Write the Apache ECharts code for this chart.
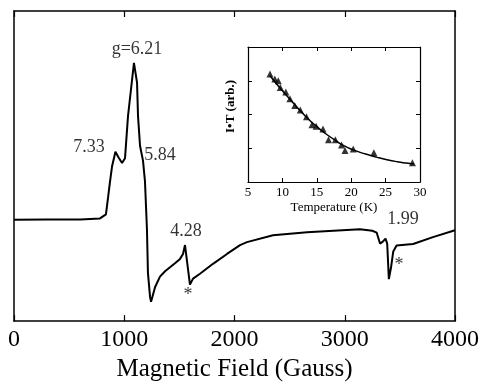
<!DOCTYPE html>
<html>
<head>
<meta charset="utf-8">
<script src="https://cdn.jsdelivr.net/npm/echarts@6/dist/echarts.min.js"></script>
<style>
html,body{margin:0;padding:0;background:#fff;}
#chart{width:483px;height:387px;}
</style>
</head>
<body>
<div id="chart"></div>
<script>
// EPR spectrum: magnetic field (Gauss) vs derivative signal (arb.)
const fieldG = [0, 300, 600, 780, 834, 853, 870, 889, 920, 950, 980, 1007, 1034, 1061, 1088, 1116, 1125, 1143, 1170, 1188, 1206, 1215, 1234, 1243, 1280, 1324, 1370, 1415, 1460, 1506, 1533, 1551, 1596, 1624, 1687, 1805, 1932, 2050, 2113, 2349, 2658, 3138, 3250, 3290, 3320, 3345, 3370, 3385, 3400, 3420, 3440, 3470, 3520, 3620, 3800, 4000];
const signal = [0, 0.5, 0.5, 1.5, 5.5, 22.5, 38, 54, 69, 63, 57.5, 62.5, 105, 132, 159, 139, 105, 75, 60, 39, -10, -54, -78, -83, -68, -57.5, -52, -48, -44, -39.5, -34.5, -25.5, -65.5, -59.5, -54.5, -44.5, -34.5, -25.5, -22.5, -15.5, -12.5, -9.5, -11, -13, -24, -22, -19, -24, -60, -48, -32, -26, -25.5, -24.5, -17.5, -10.5];

// peak annotations (label anchor in data units)
const annText  = ['g=6.21', '7.33', '5.84', '4.28', '*', '1.99', '*'];
const annField = [1116, 680, 1324, 1560, 1578, 3528, 3492];
const annValue = [172.5, 74, 65.5, -11.5, -76.5, 0.5, -45.5];

// Inset: I*T vs temperature
const tempK  = [8.2, 8.9, 9.4, 9.7, 10.5, 11.1, 11.8, 12.6, 13.5, 14.3, 14.9, 15.9, 16.7, 17.7, 18.6, 19.1, 20.3, 23.3, 28.9];
const itData = [32.0, 30.5, 30.0, 28.0, 26.7, 24.7, 22.7, 21.3, 19.3, 17.0, 16.5, 15.7, 12.5, 12.5, 11.0, 9.3, 9.8, 8.7, 5.7];
const fitT  = [8.2, 9.5, 11.1, 12.6, 14.1, 15.3, 16.5, 17.8, 19.0, 20.2, 21.4, 22.6, 23.8, 25.2, 26.7, 28.0, 29.1];
const fitIT = [31.5, 28.2, 24.5, 21.1, 18.0, 15.9, 14.0, 12.2, 10.7, 9.6, 8.7, 8.0, 7.3, 6.6, 6.0, 5.6, 5.3];

const serif = 'Liberation Serif';
const chart = echarts.init(document.getElementById('chart'), null, {renderer: 'canvas'});

const mainLine = {show: true, onZero: false, lineStyle: {color: '#000', width: 1.5}};
const insetLine = {show: true, onZero: false, lineStyle: {color: '#000', width: 1.2}};
const plain = v => String(v);

chart.setOption({
  animation: false,
  backgroundColor: '#fff',
  grid: [
    {left: 14, right: 28, top: 11, bottom: 62},
    {left: 248, right: 63, top: 47, bottom: 205}
  ],
  xAxis: [
    {gridIndex: 0, type: 'value', min: 0, max: 4000, interval: 1000, position: 'bottom',
     axisLine: mainLine,
     axisTick: {show: true, inside: true, length: 6, lineStyle: {color: '#000', width: 1.2}},
     axisLabel: {color: '#000', fontFamily: serif, fontSize: 24, margin: 7, formatter: plain},
     splitLine: {show: false},
     name: 'Magnetic Field (Gauss)', nameLocation: 'middle', nameGap: 30,
     nameTextStyle: {color: '#000', fontFamily: serif, fontSize: 25}},
    {gridIndex: 0, type: 'value', min: 0, max: 4000, interval: 1000, position: 'top',
     axisLine: mainLine,
     axisTick: {show: true, inside: true, length: 6, lineStyle: {color: '#000', width: 1.2}},
     axisLabel: {show: false}, splitLine: {show: false}},
    {gridIndex: 1, type: 'value', min: 5, max: 30, interval: 5, position: 'bottom',
     axisLine: insetLine,
     axisTick: {show: true, inside: true, length: 4, lineStyle: {color: '#000'}},
     axisLabel: {color: '#000', fontFamily: serif, fontSize: 13, margin: 4, formatter: plain},
     splitLine: {show: false},
     name: 'Temperature (K)', nameLocation: 'middle', nameGap: 19,
     nameTextStyle: {color: '#000', fontFamily: serif, fontSize: 13}},
    {gridIndex: 1, type: 'value', min: 5, max: 30, interval: 5, position: 'top',
     axisLine: insetLine,
     axisTick: {show: true, inside: true, length: 4, lineStyle: {color: '#000'}},
     axisLabel: {show: false}, splitLine: {show: false}}
  ],
  yAxis: [
    {gridIndex: 0, type: 'value', min: -102.5, max: 211.5, position: 'left',
     axisLine: mainLine,
     axisTick: {show: false}, axisLabel: {show: false}, splitLine: {show: false}},
    {gridIndex: 0, type: 'value', min: -102.5, max: 211.5, position: 'right',
     axisLine: mainLine,
     axisTick: {show: false}, axisLabel: {show: false}, splitLine: {show: false}},
    {gridIndex: 1, type: 'value', min: 0, max: 40, interval: 10, position: 'left',
     axisLine: insetLine,
     axisTick: {show: true, inside: true, length: 4, lineStyle: {color: '#000'}},
     axisLabel: {show: false}, splitLine: {show: false},
     name: 'I\u2022T (arb.)', nameLocation: 'middle', nameGap: 11, nameRotate: 90,
     nameTextStyle: {color: '#000', fontFamily: serif, fontSize: 13, fontWeight: 'bold',
                     padding: [0, 0, 0, 16]}},
    {gridIndex: 1, type: 'value', min: 0, max: 40, interval: 10, position: 'right',
     axisLine: insetLine,
     axisTick: {show: true, inside: true, length: 4, lineStyle: {color: '#000'}},
     axisLabel: {show: false}, splitLine: {show: false}}
  ],
  series: [
    {type: 'line', xAxisIndex: 0, yAxisIndex: 0,
     data: fieldG.map((g, i) => [g, signal[i]]),
     showSymbol: false, symbol: 'none',
     lineStyle: {color: '#000', width: 2}, z: 3},
    {type: 'scatter', xAxisIndex: 0, yAxisIndex: 0,
     data: annField.map((g, i) => ({value: [g, annValue[i]], name: annText[i]})),
     symbolSize: 1, itemStyle: {color: 'rgba(0,0,0,0)'},
     label: {show: true, position: 'inside', formatter: p => p.name,
             color: '#000', fontFamily: serif, fontSize: 18}, z: 4},
    {type: 'line', xAxisIndex: 2, yAxisIndex: 2,
     data: fitT.map((t, i) => [t, fitIT[i]]),
     smooth: true, showSymbol: false, symbol: 'none',
     lineStyle: {color: '#000', width: 1.5}},
    {type: 'scatter', xAxisIndex: 2, yAxisIndex: 2,
     data: tempK.map((t, i) => [t, itData[i]]),
     symbol: 'triangle', symbolSize: 7, itemStyle: {color: '#000'}}
  ]
});
</script>
</body>
</html>
